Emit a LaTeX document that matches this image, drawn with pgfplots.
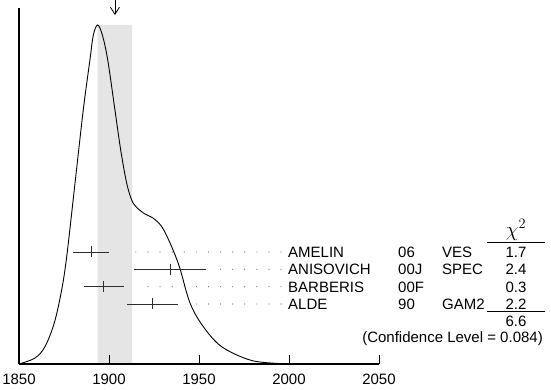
\documentclass[border=0pt]{standalone}
\usepackage{fontspec}
\setmainfont{Liberation Sans}
\usepackage{pgfplots}
\pgfplotsset{compat=1.18}
\usetikzlibrary{arrows.meta}
\definecolor{band}{RGB}{229,229,229}
\definecolor{errbar}{RGB}{45,45,45}
\definecolor{dots}{RGB}{100,100,100}

\begin{document}
\begin{tikzpicture}[x=1pt,y=1pt]
\useasboundingbox (0,0) rectangle (551,390);
\begin{axis}[
    at={(19pt,26pt)}, anchor=south west,
    scale only axis, width=360pt, height=356pt,
    xmin=1850, xmax=2050, ymin=0, ymax=356,
    axis x line=bottom, axis y line=left,
    axis line style={-, line width=1.1pt},
    axis on top,
    xtick={1850,1900,1950,2000,2050}, ytick=\empty,
    tick align=inside, major tick length=9pt,
    tick style={line width=0.9pt, black},
    /pgf/number format/assume math mode=true,
    /pgf/number format/1000 sep={},
    x tick label style={font=\fontsize{15}{18}\selectfont, anchor=base, yshift=-21pt},
    clip=false,
]
% band around the average
\addplot[fill=band, draw=none] coordinates {(1893.7,0)(1912.8,0)(1912.8,339)(1893.7,339)} \closedcycle;

% ideogram
\addplot[smooth, tension=0.55, line width=0.9pt] coordinates {
(1850,0)(1858.9,6)(1864.4,17.3)(1869.6,41)(1873.7,74)(1876.5,107.3)
(1880.7,174)(1885.7,254)(1889.4,304)(1891.3,329)(1893.7,339)
(1896.3,329)(1899.3,304)(1903.3,254)(1906.5,214)(1909.8,181)
(1912.6,164)(1915,157.3)(1919.1,151)(1924.6,145.7)(1929.3,137.3)
(1933.9,121)(1939.1,97.3)(1945,61)(1952.4,37.3)(1962.6,17.3)
(1978.3,4)(1993.2,0.6)(2008,0)
};

% average marker
\addplot[line width=0.8pt, -{Straight Barb[length=7pt,width=9pt]}] coordinates {(1903.3,364)(1903.3,349)};

% dotted guides
\addplot[dots, line width=1.2pt, line cap=round, dash pattern=on 0pt off 12.1pt] coordinates {(1995.6,112)(1909.4,112)};
\addplot[dots, line width=1.2pt, line cap=round, dash pattern=on 0pt off 12.1pt] coordinates {(1995.6,94.7)(1960.7,94.7)};
\addplot[dots, line width=1.2pt, line cap=round, dash pattern=on 0pt off 12.1pt] coordinates {(1995.6,77.3)(1916.3,77.3)};
\addplot[dots, line width=1.2pt, line cap=round, dash pattern=on 0pt off 12.1pt] coordinates {(1995.6,60)(1946.8,60)};

% measurements
\addplot[errbar, only marks, mark=|, mark size=5.5pt,
  mark options={line width=0.9pt},
  error bars/.cd, x dir=both, x explicit, error mark=none,
  error bar style={line width=0.9pt, errbar}]
  coordinates {
  (1890.2,112) +- (10,0)
  (1934.1,94.7) +- (20,0)
  (1897.1,77.3) +- (11,0)
  (1924.1,60) +- (14,0)
  };
\end{axis}

\tikzset{lab/.style={anchor=west, inner sep=0pt, text height=10.7pt, text depth=0pt,
  font=\fontsize{15}{18}\selectfont},
  val/.style={lab, anchor=center}}
\node[lab] at (288,138) {AMELIN};
\node[lab] at (398,138) {06};
\node[lab] at (442,138) {VES};
\node[val] at (516,138) {1.7};
\node[lab] at (288,120.7) {ANISOVICH};
\node[lab] at (398,120.7) {00J};
\node[lab] at (442,120.7) {SPEC};
\node[val] at (516,120.7) {2.4};
\node[lab] at (288,103.3) {BARBERIS};
\node[lab] at (398,103.3) {00F};
\node[val] at (516,103.3) {0.3};
\node[lab] at (288,86) {ALDE};
\node[lab] at (398,86) {90};
\node[lab] at (442,86) {GAM2};
\node[val] at (516,86) {2.2};
\node[anchor=south, inner sep=0pt] at (516,149.5) {\fontsize{22}{24}\selectfont$\chi^2$};
\draw[line width=0.9pt] (487,147.3) -- (545,147.3);
\draw[line width=0.9pt] (487,78.3) -- (545,78.3);
\node[val] at (516,69) {6.6};
\node[lab, anchor=east] at (543,53) {(Confidence Level = 0.084)};
\end{tikzpicture}
\end{document}
